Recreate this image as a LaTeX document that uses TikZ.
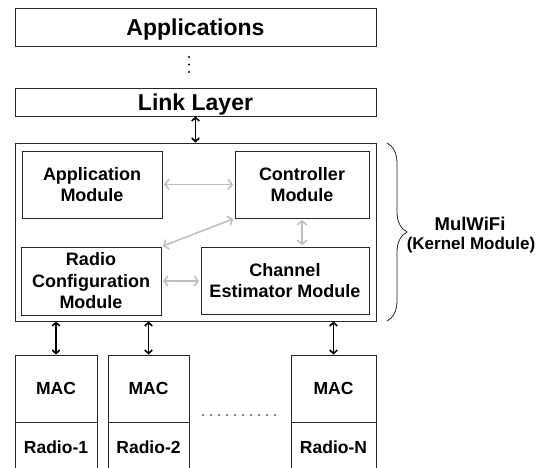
\documentclass[tikz,border=0pt]{standalone}
\usepackage{fontspec}
\setmainfont{Liberation Sans}
\usepackage{tikz}
\usetikzlibrary{arrows.meta, positioning}
\usetikzlibrary{decorations.pathreplacing}
\tikzstyle{layer} = [rectangle, minimum width=361pt, minimum height=28pt, inner sep=0pt, text centered, text depth=0pt, draw=black!85, line width=0.8pt, font=\fontsize{23}{26}\selectfont\bfseries]
\tikzstyle{module} = [rectangle, inner sep=0pt, align=center, draw=black!85, line width=0.8pt, font=\fontsize{18}{21.5}\selectfont\bfseries]
\tikzstyle{radio} = [rectangle, minimum width=82pt, inner sep=0pt, text centered, draw=black!85, line width=0.8pt, font=\fontsize{17.5}{20}\selectfont\bfseries]
\tikzstyle{arrow} = [line width=1.6pt, {Straight Barb[length=3.5pt,width=7.5pt]}-{Straight Barb[length=3.5pt,width=7.5pt]}]
\tikzstyle{grayarrow} = [draw=black!25, line width=1.6pt, {Straight Barb[length=4pt,width=10pt]}-{Straight Barb[length=4pt,width=10pt]}, shorten <=1.5pt, shorten >=1.5pt]

\begin{document}
\begin{tikzpicture}[x=1pt, y=-1pt]
\path[use as bounding box, clip] (0,0) rectangle (544,468);

% Nodes
\node (apps) [layer, minimum height=38pt] at (195.5,27) {Applications};
\node (link) [layer] at (195.5,102) {Link Layer};
\node (mulwifi) [rectangle, draw=black!85, line width=0.8pt, minimum width=361pt, minimum height=178pt] at (195.5,232) {};
\node (appmod) [module, minimum width=140pt, minimum height=67pt] at (92,184.5) {Application\\Module};
\node (ctrl) [module, minimum width=134pt, minimum height=67pt] at (302,184.5) {Controller\\Module};
\node (radiocfg) [module, minimum width=140pt, minimum height=68pt] at (91,281) {Radio\\Configuration\\Module};
\node (chest) [module, minimum width=168pt, minimum height=67pt] at (285,280.5) {Channel\\Estimator Module};
\node (mac1) [radio, minimum height=67pt] at (56,388.5) {MAC};
\node (radio1) [radio, minimum height=48pt, below=0pt of mac1] {Radio-1};
\node (mac2) [radio, minimum width=81pt, minimum height=67pt] at (148.5,388.5) {MAC};
\node (radio2) [radio, minimum width=81pt, minimum height=48pt, below=0pt of mac2] {Radio-2};
\node (macn) [radio, minimum width=85pt, minimum height=67pt] at (333.5,388.5) {MAC};
\node (radion) [radio, minimum width=85pt, minimum height=48pt, below=0pt of macn] {Radio-N};
\node (mulwifilabel) [font=\fontsize{18.5}{20}\selectfont\bfseries] at (470,224) {MulWiFi};
\node (kernellabel) [font=\fontsize{17}{20}\selectfont\bfseries] at (471,245) {(Kernel Module)};

% Dots
\foreach \y in {57,64.5,72} \fill (189,\y) circle (1.1pt);
\foreach \x in {203,211,...,275} \fill (\x,415) circle (0.9pt);

% Brace
\draw [decorate, decoration={brace, amplitude=20pt}, line width=0.8pt, black!85] (387,143) -- (387,321);

% Arrows
\draw [arrow] (link) -- (mulwifi);
\draw [arrow] (mac1.north) -- (mac1.north |- mulwifi.south);
\draw [arrow] (mac2.north) -- (mac2.north |- mulwifi.south);
\draw [arrow] (macn.north) -- (macn.north |- mulwifi.south);
\draw [grayarrow] (appmod) -- (ctrl);
\draw [grayarrow] (ctrl.south west) -- (radiocfg.north east);
\draw [grayarrow] (ctrl.south) -- (ctrl.south |- chest.north);
\draw [grayarrow] (radiocfg.east) -- (radiocfg.east -| chest.west);

\end{tikzpicture}
\end{document}
